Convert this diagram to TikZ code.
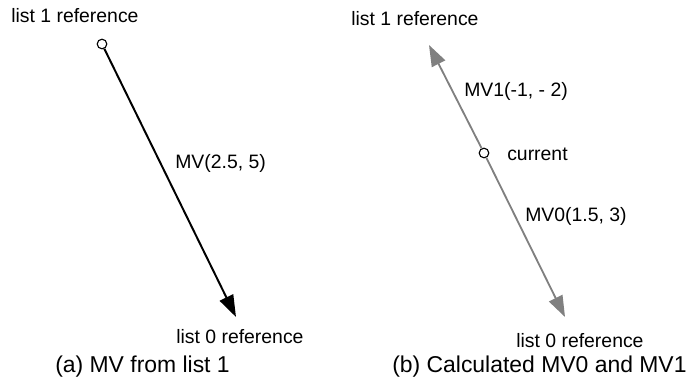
\documentclass[tikz,border=0pt]{standalone}
\usepackage{fontspec}
\setmainfont{Liberation Sans}
\usetikzlibrary{arrows.meta,positioning}
\definecolor{mvgray}{HTML}{808080}

\begin{document}
\begin{tikzpicture}[x=0.025cm,y=-0.025cm,
    every node/.style={font=\fontsize{13.8}{16}\selectfont,inner sep=0pt},
    refpt/.style={circle,draw,line width=0.8pt,fill=white,minimum size=0.24cm},
    lbl/.style={anchor=base west},
    captxt/.style={anchor=base west,font=\fontsize{16.3}{19}\selectfont},
    mvblack/.style={line width=1.4pt,-{Triangle[length=15.5pt,width=10.5pt]}},
    mvgrey/.style={mvgray,line width=1.3pt,-{Triangle[length=15pt,width=10.5pt]}}]
  \useasboundingbox (0,0) rectangle (689,387);
  % (a) vector desde la lista 1
  \node[refpt] (refa) at (102,44) {};
  \coordinate (tipa) at (236,317);
  \draw[mvblack] (refa) -- (tipa);
  \node[lbl] (lista1a) at (11,23) {list 1 reference};
  \node[lbl] (mva) at (175,168) {MV(2.5, 5)};
  \node[lbl] (lista0a) at (176,343) {list 0 reference};
  \node[captxt] (capa) at (55,372) {(a) MV from list 1};
  % (b) vectores calculados
  \node[refpt] (cur) at (484,153) {};
  \coordinate (tipup) at (429,45);
  \coordinate (tipdn) at (565,317);
  \draw[mvgrey] (cur) -- (tipup);
  \draw[mvgrey] (cur) -- (tipdn);
  \node[lbl] (lista1b) at (351,26) {list 1 reference};
  \node[lbl] (mv1) at (464,97) {MV1(-1, - 2)};
  \node[lbl] (curlbl) at (507,160) {current};
  \node[lbl] (mv0) at (525,221) {MV0(1.5, 3)};
  \node[lbl] (lista0b) at (516,347) {list 0 reference};
  \node[captxt] (capb) at (392,372) {(b) Calculated MV0 and MV1};
\end{tikzpicture}
\end{document}
